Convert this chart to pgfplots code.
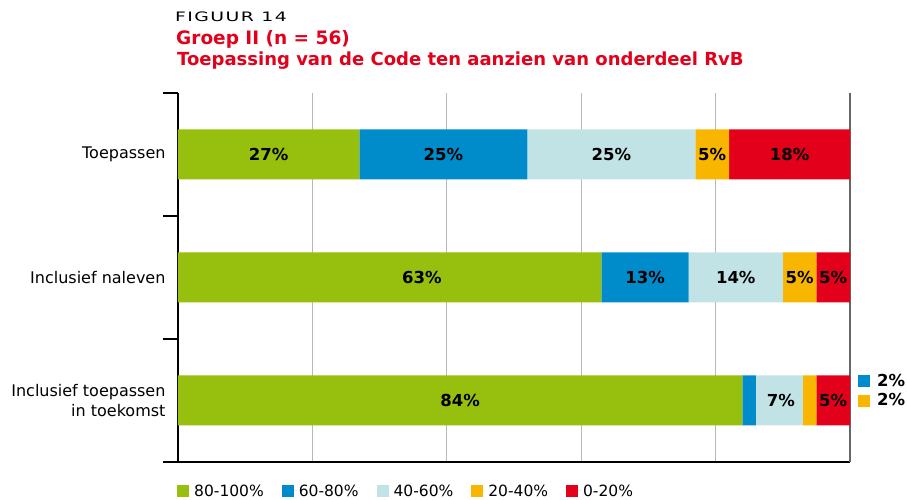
\documentclass[border=0pt]{standalone}
\usepackage{pgfplots}
\pgfplotsset{compat=1.18}
\usepackage{pgfplotstable}
\usepackage{fontspec}
\setmainfont{DejaVu Sans}
\definecolor{cgreen}{HTML}{97BF0D}
\definecolor{cblue}{HTML}{008BCA}
\definecolor{clight}{HTML}{C2E3E6}
\definecolor{cyellow}{HTML}{F8B600}
\definecolor{cred}{HTML}{E2001A}

% categories: 2 = Toepassen, 1 = Inclusief naleven, 0 = Inclusief toepassen in toekomst
\pgfplotstableread{
cat a b c d e
2 27 25 25 5 18
1 63 13 14 5 5
0 84 2 7 2 5
}\bars

\pgfplotstableread{
x y lab
13.5 2 27
39.5 2 25
64.5 2 25
79.5 2 5
91 2 18
36.3 1 63
69.5 1 13
83 1 14
92.5 1 5
97.5 1 5
42 0 84
89.7 0 7
97.5 0 5
}\labels

\begin{document}
\begin{tikzpicture}[font=\fontsize{16}{19.2}\selectfont]
\useasboundingbox (-178pt,-38pt) rectangle (729pt,462pt);
\begin{axis}[
  at={(0pt,0pt)}, anchor=south west,
  scale only axis, width=672pt, height=369pt,
  xbar stacked, bar width=50pt,
  xmin=0, xmax=100, ymin=-0.5, ymax=2.5,
  axis x line*=bottom, axis y line*=left,
  axis line style={black, line width=1.2pt},
  xtick={20,40,60,80}, xticklabels={}, xmajorgrids,
  xtick style={draw=none},
  grid style={color=black!28, line width=1pt},
  extra x ticks={100}, extra x tick labels={},
  extra x tick style={grid style={color=black!60, line width=1.2pt}, xtick style={draw=none}},
  ytick={-0.5,0.5,1.5,2.5}, yticklabels={},
  ytick style={draw=black, line width=1.2pt},
  tick align=outside, major tick length=15pt,
  extra y ticks={2,1,0},
  extra y tick labels={Toepassen, Inclusief naleven, {Inclusief toepassen\\in toekomst}},
  extra y tick style={major tick length=0pt, ytick style={draw=none}},
  yticklabel style={align=right, xshift=-9pt, font=\fontsize{16}{19.2}\selectfont},
  legend columns=-1,
  legend image code/.code={\fill[#1] (0pt,-6pt) rectangle (12pt,6pt); \path (0pt,0pt) -- (15pt,0pt);},
  legend style={draw=none, fill=none, at={(0,0)}, anchor=west, yshift=-29pt, xshift=-1pt,
    inner sep=0pt, font=\fontsize{15.5}{18}\selectfont,
    /tikz/every even column/.append style={column sep=16pt}},
]
\addplot[fill=cgreen, draw=none] table[x=a, y=cat] {\bars};
\addlegendentry{80-100\%}
\addplot[fill=cblue, draw=none] table[x=b, y=cat] {\bars};
\addlegendentry{60-80\%}
\addplot[fill=clight, draw=none] table[x=c, y=cat] {\bars};
\addlegendentry{40-60\%}
\addplot[fill=cyellow, draw=none] table[x=d, y=cat] {\bars};
\addlegendentry{20-40\%}
\addplot[fill=cred, draw=none] table[x=e, y=cat] {\bars};
\addlegendentry{0-20\%}
\end{axis}
\begin{axis}[
  at={(0pt,0pt)}, anchor=south west,
  scale only axis, width=672pt, height=369pt,
  xmin=0, xmax=100, ymin=-0.5, ymax=2.5,
  hide axis, clip=false,
]
\addplot[draw=none, mark=none, nodes near coords={\pgfplotspointmeta\%},
  point meta=explicit symbolic,
  nodes near coords style={anchor=center, text=black, font=\bfseries\fontsize{16.5}{19}\selectfont}]
  table[x=x, y=y, meta=lab] {\labels};
\end{axis}
% side labels for the two small segments
\fill[cblue] (680pt,75pt) rectangle (692pt,87pt);
\fill[cyellow] (680pt,55pt) rectangle (692pt,67pt);
\node[anchor=base west, inner sep=0pt, font=\bfseries\fontsize{16.5}{19}\selectfont] at (699pt,75pt) {2\%};
\node[anchor=base west, inner sep=0pt, font=\bfseries\fontsize{16.5}{19}\selectfont] at (699pt,56pt) {2\%};
% titles
\node[anchor=base west, inner sep=0pt] at (-3pt,440pt)
  {\fontsize{13}{16}\selectfont\addfontfeatures{FakeStretch=1.45, LetterSpace=11}FIGUUR 14};
\node[anchor=base west, inner sep=0pt, text=cred, font=\bfseries\fontsize{18.5}{21}\selectfont] at (-2pt,417.7pt) {Groep II (n = 56)};
\node[anchor=base west, inner sep=0pt, text=cred, font=\bfseries\fontsize{18}{21}\selectfont] at (-1pt,396.3pt) {Toepassing van de Code ten aanzien van onderdeel RvB};
\end{tikzpicture}
\end{document}
